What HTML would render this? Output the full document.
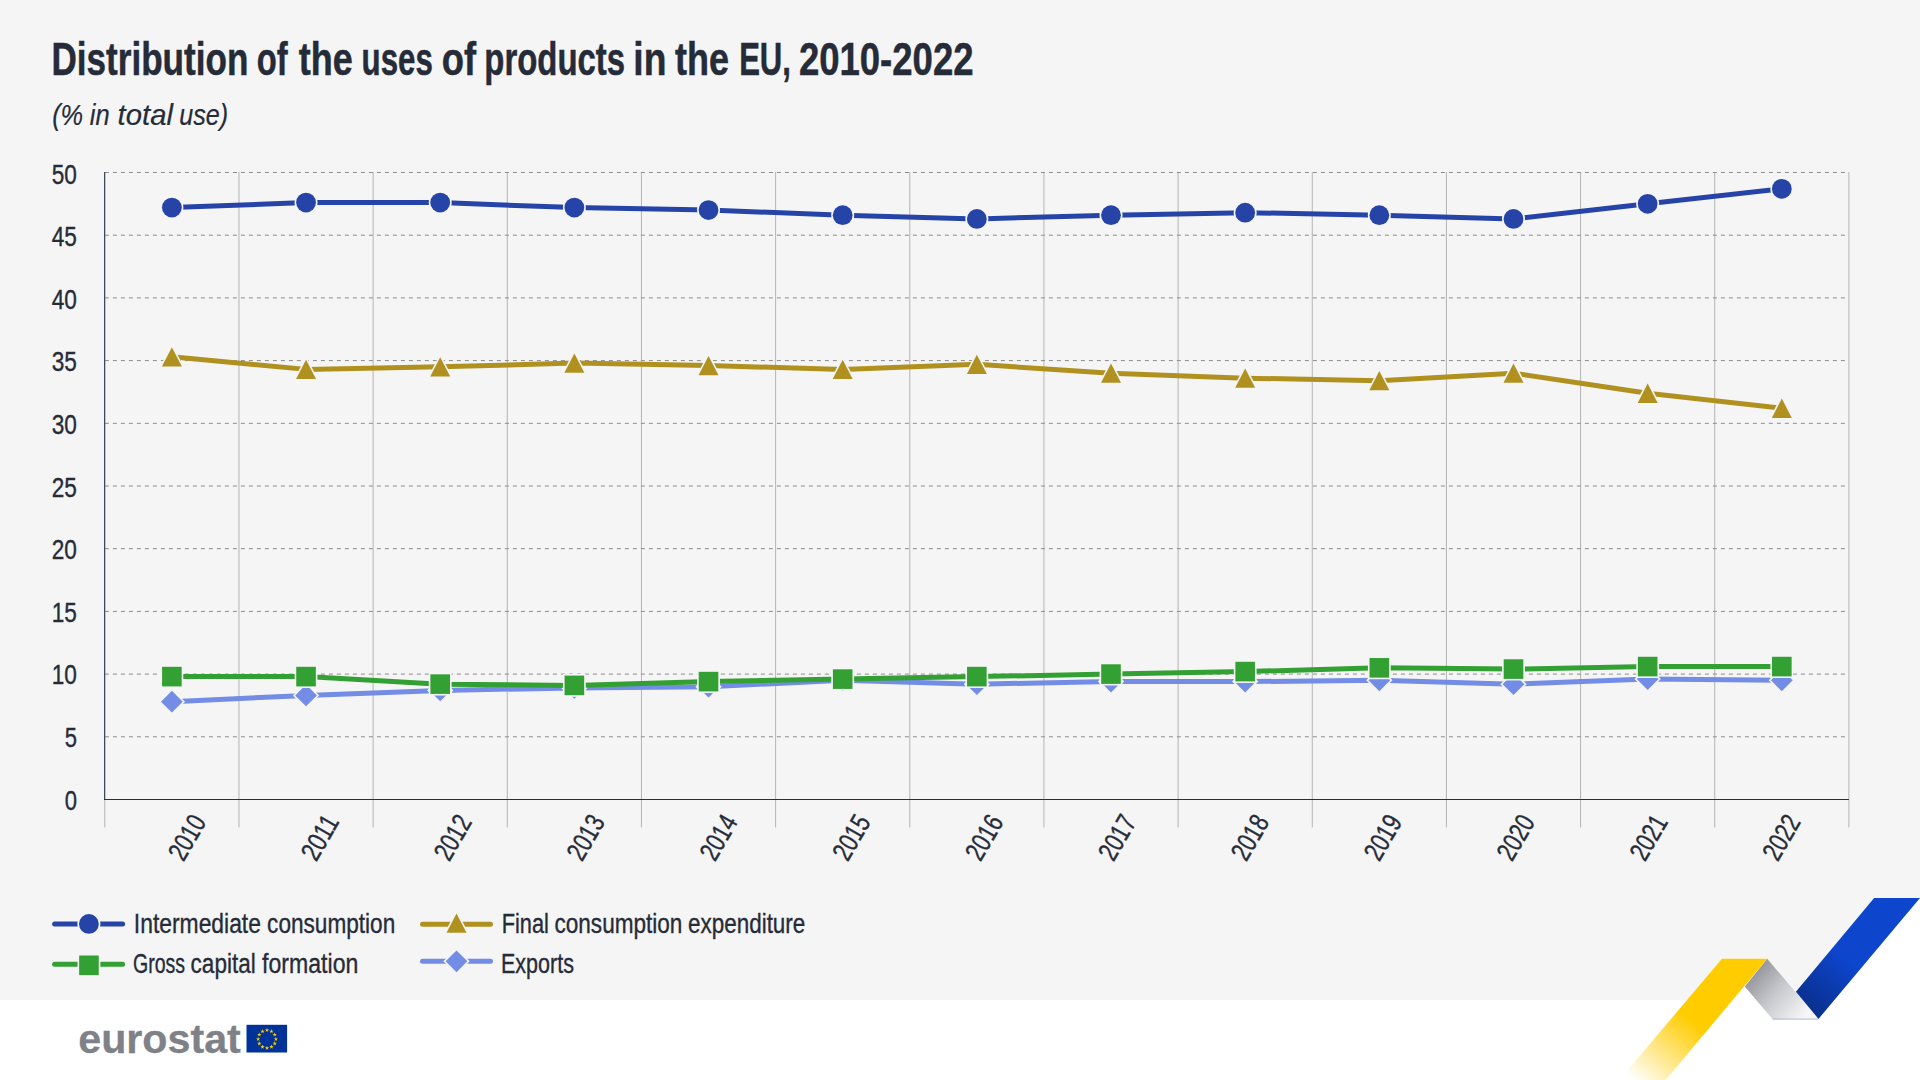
<!DOCTYPE html>
<html lang="en">
<head>
<meta charset="utf-8">
<title>Distribution of the uses of products in the EU, 2010-2022</title>
<style>
html,body{margin:0;padding:0;background:#fff;}
body{width:1920px;height:1080px;overflow:hidden;}
svg{display:block;font-family:"Liberation Sans",sans-serif;}
</style>
</head>
<body>
<svg width="1920" height="1080" viewBox="0 0 1920 1080">
<rect x="0" y="0" width="1920" height="1080" fill="#ffffff"/>
<path d="M0 0H1920V898H1874.1L1795.9 991.7L1767.2 958.7H1721.9L1687.1 1000H0Z" fill="#f5f5f5"/>
<defs>
<linearGradient id="gy" gradientUnits="userSpaceOnUse" x1="1694" y1="1022" x2="1640" y2="1086">
<stop offset="0" stop-color="#ffcc00"/><stop offset="1" stop-color="#ffffff"/></linearGradient>
<linearGradient id="gb" gradientUnits="userSpaceOnUse" x1="1843" y1="957" x2="1803" y2="1006">
<stop offset="0" stop-color="#0d45cd"/><stop offset="1" stop-color="#0a2f8c"/></linearGradient>
<linearGradient id="gg" gradientUnits="userSpaceOnUse" x1="1752" y1="968" x2="1806" y2="1014">
<stop offset="0" stop-color="#8e8f96"/><stop offset="0.5" stop-color="#c9cace"/><stop offset="1" stop-color="#f6f6f6"/></linearGradient>
</defs>
<path d="M1767.2 958.7L1818.5 1018.9L1772.6 1019.3L1744.8 986.5Z" fill="url(#gg)"/>
<path d="M1772.6 1019.1H1818.3" stroke="#8d9dcc" stroke-width="0.7" fill="none"/>
<path d="M1721.9 958.7H1767.2L1665.7 1080H1619.4Z" fill="url(#gy)"/>
<path d="M1874.1 898H1920L1818.5 1018.9L1795.9 991.7Z" fill="url(#gb)"/>
<g><text x="51.38" y="75.4" font-size="45.4" font-weight="bold" font-style="normal" text-anchor="start" fill="#262b38" textLength="197.03" lengthAdjust="spacingAndGlyphs" stroke="#262b38" stroke-width="0.5">Distribution</text><text x="256.78" y="75.4" font-size="45.4" font-weight="bold" font-style="normal" text-anchor="start" fill="#262b38" textLength="30.88" lengthAdjust="spacingAndGlyphs" stroke="#262b38" stroke-width="0.5">of</text><text x="298.7" y="75.4" font-size="45.4" font-weight="bold" font-style="normal" text-anchor="start" fill="#262b38" textLength="53.99" lengthAdjust="spacingAndGlyphs" stroke="#262b38" stroke-width="0.5">the</text><text x="361.62" y="75.4" font-size="45.4" font-weight="bold" font-style="normal" text-anchor="start" fill="#262b38" textLength="71.23" lengthAdjust="spacingAndGlyphs" stroke="#262b38" stroke-width="0.5">uses</text><text x="441.7" y="75.4" font-size="45.4" font-weight="bold" font-style="normal" text-anchor="start" fill="#262b38" textLength="34.29" lengthAdjust="spacingAndGlyphs" stroke="#262b38" stroke-width="0.5">of</text><text x="484.35" y="75.4" font-size="45.4" font-weight="bold" font-style="normal" text-anchor="start" fill="#262b38" textLength="140.75" lengthAdjust="spacingAndGlyphs" stroke="#262b38" stroke-width="0.5">products</text><text x="633.34" y="75.4" font-size="45.4" font-weight="bold" font-style="normal" text-anchor="start" fill="#262b38" textLength="33.1" lengthAdjust="spacingAndGlyphs" stroke="#262b38" stroke-width="0.5">in</text><text x="675" y="75.4" font-size="45.4" font-weight="bold" font-style="normal" text-anchor="start" fill="#262b38" textLength="53.99" lengthAdjust="spacingAndGlyphs" stroke="#262b38" stroke-width="0.5">the</text><text x="739.14" y="75.4" font-size="45.4" font-weight="bold" font-style="normal" text-anchor="start" fill="#262b38" textLength="51.84" lengthAdjust="spacingAndGlyphs" stroke="#262b38" stroke-width="0.5">EU,</text><text x="798.9" y="75.4" font-size="45.4" font-weight="bold" font-style="normal" text-anchor="start" fill="#262b38" textLength="174.61" lengthAdjust="spacingAndGlyphs" stroke="#262b38" stroke-width="0.5">2010-2022</text></g>
<g><text x="52.14" y="124.6" font-size="29.4" font-weight="normal" font-style="italic" text-anchor="start" fill="#262b38" textLength="31.04" lengthAdjust="spacingAndGlyphs" stroke="#262b38" stroke-width="0.2">(%</text><text x="89.8" y="124.6" font-size="29.4" font-weight="normal" font-style="italic" text-anchor="start" fill="#262b38" textLength="19.8" lengthAdjust="spacingAndGlyphs" stroke="#262b38" stroke-width="0.2">in</text><text x="117.6" y="124.6" font-size="29.4" font-weight="normal" font-style="italic" text-anchor="start" fill="#262b38" textLength="55.33" lengthAdjust="spacingAndGlyphs" stroke="#262b38" stroke-width="0.2">total</text><text x="179.24" y="124.6" font-size="29.4" font-weight="normal" font-style="italic" text-anchor="start" fill="#262b38" textLength="48.93" lengthAdjust="spacingAndGlyphs" stroke="#262b38" stroke-width="0.2">use)</text></g>
<g fill="none"><path d="M104.8 172V827.5" stroke="#b4b4b4" stroke-width="1"/>
<path d="M238.96 172V827.5" stroke="#b4b4b4" stroke-width="1"/>
<path d="M373.12 172V827.5" stroke="#b4b4b4" stroke-width="1"/>
<path d="M507.28 172V827.5" stroke="#b4b4b4" stroke-width="1"/>
<path d="M641.45 172V827.5" stroke="#b4b4b4" stroke-width="1"/>
<path d="M775.61 172V827.5" stroke="#b4b4b4" stroke-width="1"/>
<path d="M909.77 172V827.5" stroke="#b4b4b4" stroke-width="1"/>
<path d="M1043.93 172V827.5" stroke="#b4b4b4" stroke-width="1"/>
<path d="M1178.09 172V827.5" stroke="#b4b4b4" stroke-width="1"/>
<path d="M1312.25 172V827.5" stroke="#b4b4b4" stroke-width="1"/>
<path d="M1446.42 172V827.5" stroke="#b4b4b4" stroke-width="1"/>
<path d="M1580.58 172V827.5" stroke="#b4b4b4" stroke-width="1"/>
<path d="M1714.74 172V827.5" stroke="#b4b4b4" stroke-width="1"/>
<path d="M1848.9 172V827.5" stroke="#b4b4b4" stroke-width="1"/>
<path d="M104.9 736.8H1848.9" stroke="#8c8c8c" stroke-width="1" stroke-dasharray="4 4"/>
<path d="M104.9 674.1H1848.9" stroke="#8c8c8c" stroke-width="1" stroke-dasharray="4 4"/>
<path d="M104.9 611.4H1848.9" stroke="#8c8c8c" stroke-width="1" stroke-dasharray="4 4"/>
<path d="M104.9 548.7H1848.9" stroke="#8c8c8c" stroke-width="1" stroke-dasharray="4 4"/>
<path d="M104.9 486H1848.9" stroke="#8c8c8c" stroke-width="1" stroke-dasharray="4 4"/>
<path d="M104.9 423.3H1848.9" stroke="#8c8c8c" stroke-width="1" stroke-dasharray="4 4"/>
<path d="M104.9 360.6H1848.9" stroke="#8c8c8c" stroke-width="1" stroke-dasharray="4 4"/>
<path d="M104.9 297.9H1848.9" stroke="#8c8c8c" stroke-width="1" stroke-dasharray="4 4"/>
<path d="M104.9 235.2H1848.9" stroke="#8c8c8c" stroke-width="1" stroke-dasharray="4 4"/>
<path d="M104.9 172.5H1848.9" stroke="#8c8c8c" stroke-width="1" stroke-dasharray="4 4"/></g>
<path d="M104.6 172V800" fill="none" stroke="#454957" stroke-width="1.2"/>
<path d="M104 799.5H1848.9" fill="none" stroke="#2a2f3d" stroke-width="1.2"/>
<text x="76.9" y="809.6" font-size="27.7" font-weight="normal" font-style="normal" text-anchor="end" fill="#262b38" textLength="12.25" lengthAdjust="spacingAndGlyphs" stroke="#262b38" stroke-width="0.35">0</text>
<text x="76.9" y="747.01" font-size="27.7" font-weight="normal" font-style="normal" text-anchor="end" fill="#262b38" textLength="12.25" lengthAdjust="spacingAndGlyphs" stroke="#262b38" stroke-width="0.35">5</text>
<text x="76.9" y="684.42" font-size="27.7" font-weight="normal" font-style="normal" text-anchor="end" fill="#262b38" textLength="25.2" lengthAdjust="spacingAndGlyphs" stroke="#262b38" stroke-width="0.35">10</text>
<text x="76.9" y="621.83" font-size="27.7" font-weight="normal" font-style="normal" text-anchor="end" fill="#262b38" textLength="25.2" lengthAdjust="spacingAndGlyphs" stroke="#262b38" stroke-width="0.35">15</text>
<text x="76.9" y="559.24" font-size="27.7" font-weight="normal" font-style="normal" text-anchor="end" fill="#262b38" textLength="25.2" lengthAdjust="spacingAndGlyphs" stroke="#262b38" stroke-width="0.35">20</text>
<text x="76.9" y="496.65" font-size="27.7" font-weight="normal" font-style="normal" text-anchor="end" fill="#262b38" textLength="25.2" lengthAdjust="spacingAndGlyphs" stroke="#262b38" stroke-width="0.35">25</text>
<text x="76.9" y="434.06" font-size="27.7" font-weight="normal" font-style="normal" text-anchor="end" fill="#262b38" textLength="25.2" lengthAdjust="spacingAndGlyphs" stroke="#262b38" stroke-width="0.35">30</text>
<text x="76.9" y="371.47" font-size="27.7" font-weight="normal" font-style="normal" text-anchor="end" fill="#262b38" textLength="25.2" lengthAdjust="spacingAndGlyphs" stroke="#262b38" stroke-width="0.35">35</text>
<text x="76.9" y="308.88" font-size="27.7" font-weight="normal" font-style="normal" text-anchor="end" fill="#262b38" textLength="25.2" lengthAdjust="spacingAndGlyphs" stroke="#262b38" stroke-width="0.35">40</text>
<text x="76.9" y="246.29" font-size="27.7" font-weight="normal" font-style="normal" text-anchor="end" fill="#262b38" textLength="25.2" lengthAdjust="spacingAndGlyphs" stroke="#262b38" stroke-width="0.35">45</text>
<text x="76.9" y="183.7" font-size="27.7" font-weight="normal" font-style="normal" text-anchor="end" fill="#262b38" textLength="25.2" lengthAdjust="spacingAndGlyphs" stroke="#262b38" stroke-width="0.35">50</text>
<g>
<polyline points="171.88,207.61 306.04,202.6 440.2,202.6 574.37,207.61 708.53,210.12 842.69,215.14 976.85,218.9 1111.01,215.14 1245.17,212.63 1379.33,215.14 1513.5,218.9 1647.66,203.85 1781.82,188.8" fill="none" stroke="#2644a7" stroke-width="5" stroke-linejoin="round" stroke-linecap="round"/>
<circle cx="171.88" cy="207.61" r="9.9" fill="#2644a7" stroke="#f5f5f5" stroke-width="3.2" paint-order="stroke" stroke-linejoin="miter"/>
<circle cx="306.04" cy="202.6" r="9.9" fill="#2644a7" stroke="#f5f5f5" stroke-width="3.2" paint-order="stroke" stroke-linejoin="miter"/>
<circle cx="440.2" cy="202.6" r="9.9" fill="#2644a7" stroke="#f5f5f5" stroke-width="3.2" paint-order="stroke" stroke-linejoin="miter"/>
<circle cx="574.37" cy="207.61" r="9.9" fill="#2644a7" stroke="#f5f5f5" stroke-width="3.2" paint-order="stroke" stroke-linejoin="miter"/>
<circle cx="708.53" cy="210.12" r="9.9" fill="#2644a7" stroke="#f5f5f5" stroke-width="3.2" paint-order="stroke" stroke-linejoin="miter"/>
<circle cx="842.69" cy="215.14" r="9.9" fill="#2644a7" stroke="#f5f5f5" stroke-width="3.2" paint-order="stroke" stroke-linejoin="miter"/>
<circle cx="976.85" cy="218.9" r="9.9" fill="#2644a7" stroke="#f5f5f5" stroke-width="3.2" paint-order="stroke" stroke-linejoin="miter"/>
<circle cx="1111.01" cy="215.14" r="9.9" fill="#2644a7" stroke="#f5f5f5" stroke-width="3.2" paint-order="stroke" stroke-linejoin="miter"/>
<circle cx="1245.17" cy="212.63" r="9.9" fill="#2644a7" stroke="#f5f5f5" stroke-width="3.2" paint-order="stroke" stroke-linejoin="miter"/>
<circle cx="1379.33" cy="215.14" r="9.9" fill="#2644a7" stroke="#f5f5f5" stroke-width="3.2" paint-order="stroke" stroke-linejoin="miter"/>
<circle cx="1513.5" cy="218.9" r="9.9" fill="#2644a7" stroke="#f5f5f5" stroke-width="3.2" paint-order="stroke" stroke-linejoin="miter"/>
<circle cx="1647.66" cy="203.85" r="9.9" fill="#2644a7" stroke="#f5f5f5" stroke-width="3.2" paint-order="stroke" stroke-linejoin="miter"/>
<circle cx="1781.82" cy="188.8" r="9.9" fill="#2644a7" stroke="#f5f5f5" stroke-width="3.2" paint-order="stroke" stroke-linejoin="miter"/>
</g>
<g>
<polyline points="171.88,356.84 306.04,369.38 440.2,366.87 574.37,363.11 708.53,365.62 842.69,369.38 976.85,364.36 1111.01,373.14 1245.17,378.16 1379.33,380.66 1513.5,373.14 1647.66,393.2 1781.82,408.25" fill="none" stroke="#b09120" stroke-width="5" stroke-linejoin="round" stroke-linecap="round"/>
<path d="M171.88 347.14L181.88 366.54L161.88 366.54Z" fill="#b09120" stroke="#f5f5f5" stroke-width="3.2" paint-order="stroke" stroke-linejoin="miter"/>
<path d="M306.04 359.68L316.04 379.08L296.04 379.08Z" fill="#b09120" stroke="#f5f5f5" stroke-width="3.2" paint-order="stroke" stroke-linejoin="miter"/>
<path d="M440.2 357.17L450.2 376.57L430.2 376.57Z" fill="#b09120" stroke="#f5f5f5" stroke-width="3.2" paint-order="stroke" stroke-linejoin="miter"/>
<path d="M574.37 353.41L584.37 372.81L564.37 372.81Z" fill="#b09120" stroke="#f5f5f5" stroke-width="3.2" paint-order="stroke" stroke-linejoin="miter"/>
<path d="M708.53 355.92L718.53 375.32L698.53 375.32Z" fill="#b09120" stroke="#f5f5f5" stroke-width="3.2" paint-order="stroke" stroke-linejoin="miter"/>
<path d="M842.69 359.68L852.69 379.08L832.69 379.08Z" fill="#b09120" stroke="#f5f5f5" stroke-width="3.2" paint-order="stroke" stroke-linejoin="miter"/>
<path d="M976.85 354.66L986.85 374.06L966.85 374.06Z" fill="#b09120" stroke="#f5f5f5" stroke-width="3.2" paint-order="stroke" stroke-linejoin="miter"/>
<path d="M1111.01 363.44L1121.01 382.84L1101.01 382.84Z" fill="#b09120" stroke="#f5f5f5" stroke-width="3.2" paint-order="stroke" stroke-linejoin="miter"/>
<path d="M1245.17 368.46L1255.17 387.86L1235.17 387.86Z" fill="#b09120" stroke="#f5f5f5" stroke-width="3.2" paint-order="stroke" stroke-linejoin="miter"/>
<path d="M1379.33 370.96L1389.33 390.36L1369.33 390.36Z" fill="#b09120" stroke="#f5f5f5" stroke-width="3.2" paint-order="stroke" stroke-linejoin="miter"/>
<path d="M1513.5 363.44L1523.5 382.84L1503.5 382.84Z" fill="#b09120" stroke="#f5f5f5" stroke-width="3.2" paint-order="stroke" stroke-linejoin="miter"/>
<path d="M1647.66 383.5L1657.66 402.9L1637.66 402.9Z" fill="#b09120" stroke="#f5f5f5" stroke-width="3.2" paint-order="stroke" stroke-linejoin="miter"/>
<path d="M1781.82 398.55L1791.82 417.95L1771.82 417.95Z" fill="#b09120" stroke="#f5f5f5" stroke-width="3.2" paint-order="stroke" stroke-linejoin="miter"/>
</g>
<g>
<polyline points="171.88,701.69 306.04,695.42 440.2,690.4 574.37,687.89 708.53,686.64 842.69,680.37 976.85,684.13 1111.01,681.62 1245.17,681.62 1379.33,680.37 1513.5,684.13 1647.66,679.12 1781.82,680.37" fill="none" stroke="#738ce5" stroke-width="5" stroke-linejoin="round" stroke-linecap="round"/>
<path d="M171.88 690.79L182.78 701.69L171.88 712.59L160.98 701.69Z" fill="#738ce5" stroke="#f5f5f5" stroke-width="3.2" paint-order="stroke" stroke-linejoin="miter"/>
<path d="M306.04 684.52L316.94 695.42L306.04 706.32L295.14 695.42Z" fill="#738ce5" stroke="#f5f5f5" stroke-width="3.2" paint-order="stroke" stroke-linejoin="miter"/>
<path d="M440.2 679.5L451.1 690.4L440.2 701.3L429.3 690.4Z" fill="#738ce5" stroke="#f5f5f5" stroke-width="3.2" paint-order="stroke" stroke-linejoin="miter"/>
<path d="M574.37 676.99L585.27 687.89L574.37 698.79L563.47 687.89Z" fill="#738ce5" stroke="#f5f5f5" stroke-width="3.2" paint-order="stroke" stroke-linejoin="miter"/>
<path d="M708.53 675.74L719.43 686.64L708.53 697.54L697.63 686.64Z" fill="#738ce5" stroke="#f5f5f5" stroke-width="3.2" paint-order="stroke" stroke-linejoin="miter"/>
<path d="M842.69 669.47L853.59 680.37L842.69 691.27L831.79 680.37Z" fill="#738ce5" stroke="#f5f5f5" stroke-width="3.2" paint-order="stroke" stroke-linejoin="miter"/>
<path d="M976.85 673.23L987.75 684.13L976.85 695.03L965.95 684.13Z" fill="#738ce5" stroke="#f5f5f5" stroke-width="3.2" paint-order="stroke" stroke-linejoin="miter"/>
<path d="M1111.01 670.72L1121.91 681.62L1111.01 692.52L1100.11 681.62Z" fill="#738ce5" stroke="#f5f5f5" stroke-width="3.2" paint-order="stroke" stroke-linejoin="miter"/>
<path d="M1245.17 670.72L1256.07 681.62L1245.17 692.52L1234.27 681.62Z" fill="#738ce5" stroke="#f5f5f5" stroke-width="3.2" paint-order="stroke" stroke-linejoin="miter"/>
<path d="M1379.33 669.47L1390.23 680.37L1379.33 691.27L1368.43 680.37Z" fill="#738ce5" stroke="#f5f5f5" stroke-width="3.2" paint-order="stroke" stroke-linejoin="miter"/>
<path d="M1513.5 673.23L1524.4 684.13L1513.5 695.03L1502.6 684.13Z" fill="#738ce5" stroke="#f5f5f5" stroke-width="3.2" paint-order="stroke" stroke-linejoin="miter"/>
<path d="M1647.66 668.22L1658.56 679.12L1647.66 690.02L1636.76 679.12Z" fill="#738ce5" stroke="#f5f5f5" stroke-width="3.2" paint-order="stroke" stroke-linejoin="miter"/>
<path d="M1781.82 669.47L1792.72 680.37L1781.82 691.27L1770.92 680.37Z" fill="#738ce5" stroke="#f5f5f5" stroke-width="3.2" paint-order="stroke" stroke-linejoin="miter"/>
</g>
<g>
<polyline points="171.88,676.61 306.04,676.61 440.2,684.13 574.37,685.39 708.53,681.62 842.69,679.12 976.85,676.61 1111.01,674.1 1245.17,671.59 1379.33,667.83 1513.5,669.08 1647.66,666.58 1781.82,666.58" fill="none" stroke="#33a033" stroke-width="5" stroke-linejoin="round" stroke-linecap="round"/>
<rect x="162.08" y="666.81" width="19.6" height="19.6" fill="#33a033" stroke="#f5f5f5" stroke-width="3.2" paint-order="stroke" stroke-linejoin="miter"/>
<rect x="296.24" y="666.81" width="19.6" height="19.6" fill="#33a033" stroke="#f5f5f5" stroke-width="3.2" paint-order="stroke" stroke-linejoin="miter"/>
<rect x="430.4" y="674.33" width="19.6" height="19.6" fill="#33a033" stroke="#f5f5f5" stroke-width="3.2" paint-order="stroke" stroke-linejoin="miter"/>
<rect x="564.57" y="675.59" width="19.6" height="19.6" fill="#33a033" stroke="#f5f5f5" stroke-width="3.2" paint-order="stroke" stroke-linejoin="miter"/>
<rect x="698.73" y="671.82" width="19.6" height="19.6" fill="#33a033" stroke="#f5f5f5" stroke-width="3.2" paint-order="stroke" stroke-linejoin="miter"/>
<rect x="832.89" y="669.32" width="19.6" height="19.6" fill="#33a033" stroke="#f5f5f5" stroke-width="3.2" paint-order="stroke" stroke-linejoin="miter"/>
<rect x="967.05" y="666.81" width="19.6" height="19.6" fill="#33a033" stroke="#f5f5f5" stroke-width="3.2" paint-order="stroke" stroke-linejoin="miter"/>
<rect x="1101.21" y="664.3" width="19.6" height="19.6" fill="#33a033" stroke="#f5f5f5" stroke-width="3.2" paint-order="stroke" stroke-linejoin="miter"/>
<rect x="1235.37" y="661.79" width="19.6" height="19.6" fill="#33a033" stroke="#f5f5f5" stroke-width="3.2" paint-order="stroke" stroke-linejoin="miter"/>
<rect x="1369.53" y="658.03" width="19.6" height="19.6" fill="#33a033" stroke="#f5f5f5" stroke-width="3.2" paint-order="stroke" stroke-linejoin="miter"/>
<rect x="1503.7" y="659.28" width="19.6" height="19.6" fill="#33a033" stroke="#f5f5f5" stroke-width="3.2" paint-order="stroke" stroke-linejoin="miter"/>
<rect x="1637.86" y="656.78" width="19.6" height="19.6" fill="#33a033" stroke="#f5f5f5" stroke-width="3.2" paint-order="stroke" stroke-linejoin="miter"/>
<rect x="1772.02" y="656.78" width="19.6" height="19.6" fill="#33a033" stroke="#f5f5f5" stroke-width="3.2" paint-order="stroke" stroke-linejoin="miter"/>
</g>
<text transform="translate(207 821.7) rotate(-60)" font-size="27.7" text-anchor="end" fill="#262b38" stroke="#262b38" stroke-width="0.35" textLength="47.2" lengthAdjust="spacingAndGlyphs">2010</text>
<text transform="translate(339.87 821.7) rotate(-60)" font-size="27.7" text-anchor="end" fill="#262b38" stroke="#262b38" stroke-width="0.35" textLength="47.2" lengthAdjust="spacingAndGlyphs">2011</text>
<text transform="translate(472.74 821.7) rotate(-60)" font-size="27.7" text-anchor="end" fill="#262b38" stroke="#262b38" stroke-width="0.35" textLength="47.2" lengthAdjust="spacingAndGlyphs">2012</text>
<text transform="translate(605.61 821.7) rotate(-60)" font-size="27.7" text-anchor="end" fill="#262b38" stroke="#262b38" stroke-width="0.35" textLength="47.2" lengthAdjust="spacingAndGlyphs">2013</text>
<text transform="translate(738.48 821.7) rotate(-60)" font-size="27.7" text-anchor="end" fill="#262b38" stroke="#262b38" stroke-width="0.35" textLength="47.2" lengthAdjust="spacingAndGlyphs">2014</text>
<text transform="translate(871.35 821.7) rotate(-60)" font-size="27.7" text-anchor="end" fill="#262b38" stroke="#262b38" stroke-width="0.35" textLength="47.2" lengthAdjust="spacingAndGlyphs">2015</text>
<text transform="translate(1004.22 821.7) rotate(-60)" font-size="27.7" text-anchor="end" fill="#262b38" stroke="#262b38" stroke-width="0.35" textLength="47.2" lengthAdjust="spacingAndGlyphs">2016</text>
<text transform="translate(1137.09 821.7) rotate(-60)" font-size="27.7" text-anchor="end" fill="#262b38" stroke="#262b38" stroke-width="0.35" textLength="47.2" lengthAdjust="spacingAndGlyphs">2017</text>
<text transform="translate(1269.96 821.7) rotate(-60)" font-size="27.7" text-anchor="end" fill="#262b38" stroke="#262b38" stroke-width="0.35" textLength="47.2" lengthAdjust="spacingAndGlyphs">2018</text>
<text transform="translate(1402.83 821.7) rotate(-60)" font-size="27.7" text-anchor="end" fill="#262b38" stroke="#262b38" stroke-width="0.35" textLength="47.2" lengthAdjust="spacingAndGlyphs">2019</text>
<text transform="translate(1535.7 821.7) rotate(-60)" font-size="27.7" text-anchor="end" fill="#262b38" stroke="#262b38" stroke-width="0.35" textLength="47.2" lengthAdjust="spacingAndGlyphs">2020</text>
<text transform="translate(1668.57 821.7) rotate(-60)" font-size="27.7" text-anchor="end" fill="#262b38" stroke="#262b38" stroke-width="0.35" textLength="47.2" lengthAdjust="spacingAndGlyphs">2021</text>
<text transform="translate(1801.44 821.7) rotate(-60)" font-size="27.7" text-anchor="end" fill="#262b38" stroke="#262b38" stroke-width="0.35" textLength="47.2" lengthAdjust="spacingAndGlyphs">2022</text>
<path d="M54.6 924H122.6" stroke="#2644a7" stroke-width="5" stroke-linecap="round" fill="none"/>
<circle cx="88.9" cy="923.9" r="9.9" fill="#2644a7" stroke="#f5f5f5" stroke-width="3.2" paint-order="stroke" stroke-linejoin="miter"/>
<g><text x="133.85" y="933.2" font-size="27.7" font-weight="normal" font-style="normal" text-anchor="start" fill="#262b38" textLength="127.08" lengthAdjust="spacingAndGlyphs" stroke="#262b38" stroke-width="0.35">Intermediate</text><text x="267.08" y="933.2" font-size="27.7" font-weight="normal" font-style="normal" text-anchor="start" fill="#262b38" textLength="128.16" lengthAdjust="spacingAndGlyphs" stroke="#262b38" stroke-width="0.35">consumption</text></g>
<path d="M422.5 924.2H490.5" stroke="#b09120" stroke-width="5" stroke-linecap="round" fill="none"/>
<path d="M456.5 913.4L466.5 932.8L446.5 932.8Z" fill="#b09120" stroke="#f5f5f5" stroke-width="3.2" paint-order="stroke" stroke-linejoin="miter"/>
<g><text x="501.73" y="933.2" font-size="27.7" font-weight="normal" font-style="normal" text-anchor="start" fill="#262b38" textLength="47.18" lengthAdjust="spacingAndGlyphs" stroke="#262b38" stroke-width="0.35">Final</text><text x="554.48" y="933.2" font-size="27.7" font-weight="normal" font-style="normal" text-anchor="start" fill="#262b38" textLength="127.95" lengthAdjust="spacingAndGlyphs" stroke="#262b38" stroke-width="0.35">consumption</text><text x="687.99" y="933.2" font-size="27.7" font-weight="normal" font-style="normal" text-anchor="start" fill="#262b38" textLength="117.33" lengthAdjust="spacingAndGlyphs" stroke="#262b38" stroke-width="0.35">expenditure</text></g>
<path d="M54.6 964.3H122.6" stroke="#33a033" stroke-width="5" stroke-linecap="round" fill="none"/>
<rect x="79.15" y="955.5" width="19.6" height="19.6" fill="#33a033" stroke="#f5f5f5" stroke-width="3.2" paint-order="stroke" stroke-linejoin="miter"/>
<g><text x="133.05" y="973.4" font-size="27.7" font-weight="normal" font-style="normal" text-anchor="start" fill="#262b38" textLength="52.05" lengthAdjust="spacingAndGlyphs" stroke="#262b38" stroke-width="0.35">Gross</text><text x="190.59" y="973.4" font-size="27.7" font-weight="normal" font-style="normal" text-anchor="start" fill="#262b38" textLength="65.15" lengthAdjust="spacingAndGlyphs" stroke="#262b38" stroke-width="0.35">capital</text><text x="262.1" y="973.4" font-size="27.7" font-weight="normal" font-style="normal" text-anchor="start" fill="#262b38" textLength="96.27" lengthAdjust="spacingAndGlyphs" stroke="#262b38" stroke-width="0.35">formation</text></g>
<path d="M422.5 961.3H490.5" stroke="#738ce5" stroke-width="5" stroke-linecap="round" fill="none"/>
<path d="M456.5 950.4L467.4 961.3L456.5 972.2L445.6 961.3Z" fill="#738ce5" stroke="#f5f5f5" stroke-width="3.2" paint-order="stroke" stroke-linejoin="miter"/>
<g><text x="500.94" y="973.4" font-size="27.7" font-weight="normal" font-style="normal" text-anchor="start" fill="#262b38" textLength="73.01" lengthAdjust="spacingAndGlyphs" stroke="#262b38" stroke-width="0.35">Exports</text></g>
<g><text x="78.21" y="1053" font-size="41.5" font-weight="bold" font-style="normal" text-anchor="start" fill="#7f8189" textLength="162.61" lengthAdjust="spacingAndGlyphs" stroke="#7f8189" stroke-width="0.3">eurostat</text></g>
<rect x="246.5" y="1024.8" width="40.6" height="27.7" fill="#003399"/>
<g fill="#ffcc00"><polygon points="267,1027.9 267.52,1029.49 269.19,1029.49 267.84,1030.47 268.35,1032.06 267,1031.08 265.65,1032.06 266.16,1030.47 264.81,1029.49 266.48,1029.49"/><polygon points="271.45,1029.09 271.97,1030.68 273.64,1030.68 272.29,1031.66 272.8,1033.25 271.45,1032.27 270.1,1033.25 270.61,1031.66 269.26,1030.68 270.93,1030.68"/><polygon points="274.71,1032.35 275.22,1033.94 276.9,1033.94 275.54,1034.92 276.06,1036.51 274.71,1035.53 273.36,1036.51 273.87,1034.92 272.52,1033.94 274.19,1033.94"/><polygon points="275.9,1036.8 276.42,1038.39 278.09,1038.39 276.74,1039.37 277.25,1040.96 275.9,1039.98 274.55,1040.96 275.06,1039.37 273.71,1038.39 275.38,1038.39"/><polygon points="274.71,1041.25 275.22,1042.84 276.9,1042.84 275.54,1043.82 276.06,1045.41 274.71,1044.43 273.36,1045.41 273.87,1043.82 272.52,1042.84 274.19,1042.84"/><polygon points="271.45,1044.51 271.97,1046.1 273.64,1046.1 272.29,1047.08 272.8,1048.67 271.45,1047.69 270.1,1048.67 270.61,1047.08 269.26,1046.1 270.93,1046.1"/><polygon points="267,1045.7 267.52,1047.29 269.19,1047.29 267.84,1048.27 268.35,1049.86 267,1048.88 265.65,1049.86 266.16,1048.27 264.81,1047.29 266.48,1047.29"/><polygon points="262.55,1044.51 263.07,1046.1 264.74,1046.1 263.39,1047.08 263.9,1048.67 262.55,1047.69 261.2,1048.67 261.71,1047.08 260.36,1046.1 262.03,1046.1"/><polygon points="259.29,1041.25 259.81,1042.84 261.48,1042.84 260.13,1043.82 260.64,1045.41 259.29,1044.43 257.94,1045.41 258.46,1043.82 257.1,1042.84 258.78,1042.84"/><polygon points="258.1,1036.8 258.62,1038.39 260.29,1038.39 258.94,1039.37 259.45,1040.96 258.1,1039.98 256.75,1040.96 257.26,1039.37 255.91,1038.39 257.58,1038.39"/><polygon points="259.29,1032.35 259.81,1033.94 261.48,1033.94 260.13,1034.92 260.64,1036.51 259.29,1035.53 257.94,1036.51 258.46,1034.92 257.1,1033.94 258.78,1033.94"/><polygon points="262.55,1029.09 263.07,1030.68 264.74,1030.68 263.39,1031.66 263.9,1033.25 262.55,1032.27 261.2,1033.25 261.71,1031.66 260.36,1030.68 262.03,1030.68"/></g>
</svg>
</body>
</html>
